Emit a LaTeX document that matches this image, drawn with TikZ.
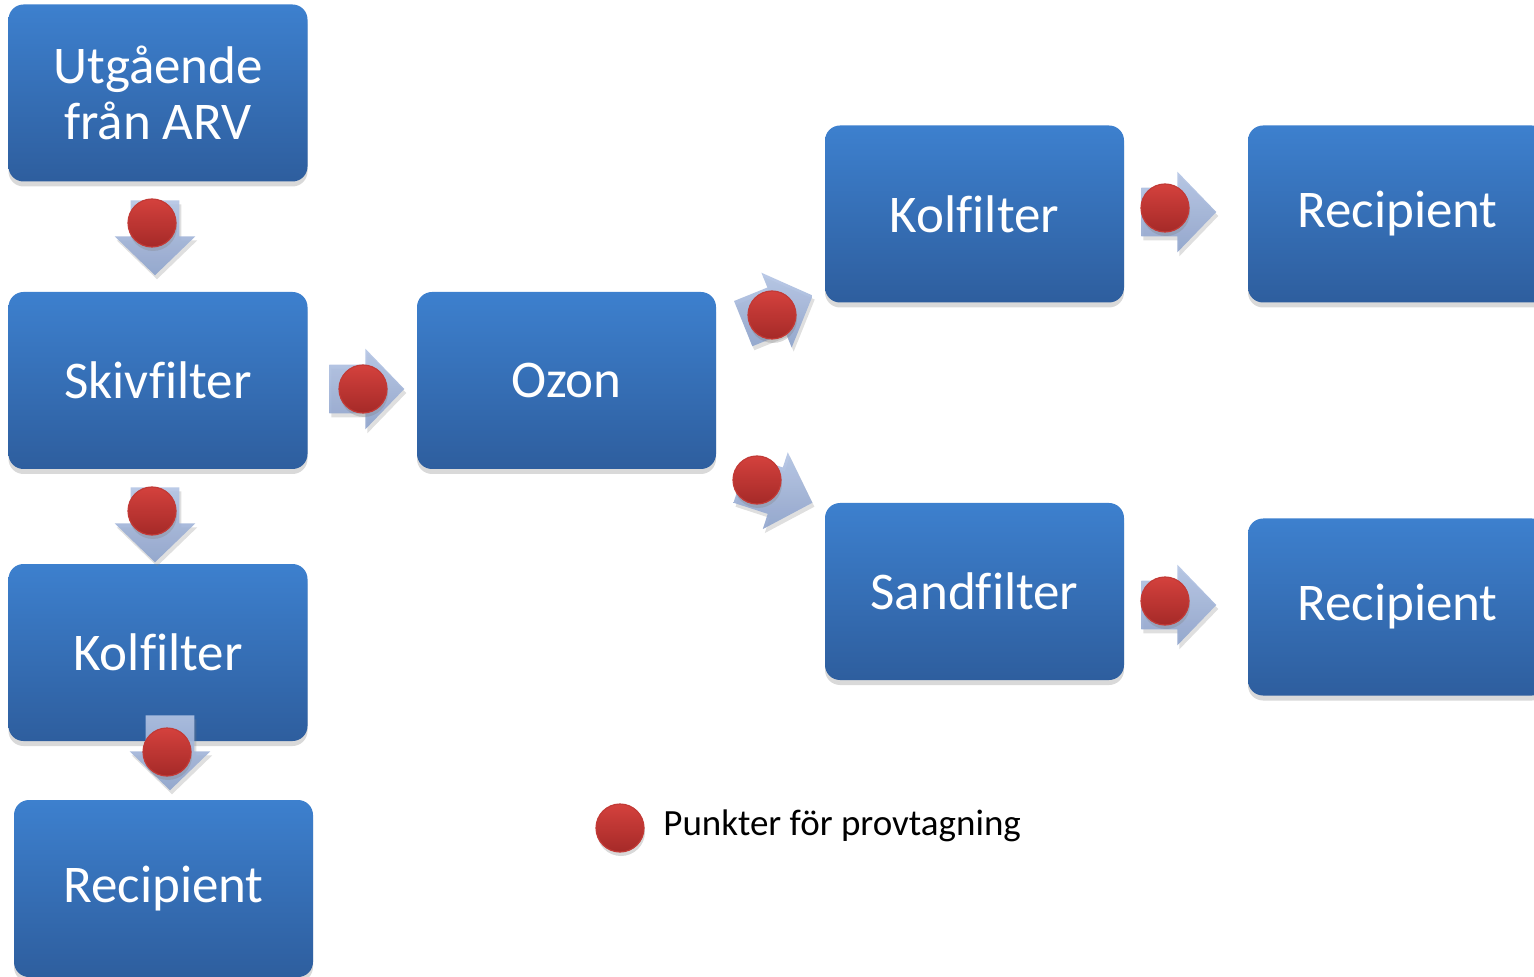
\documentclass[tikz,border=0pt]{standalone}
\usepackage{fontspec}
\setmainfont[Ligatures=NoCommon]{Carlito}
\usetikzlibrary{shapes.arrows,shadows}
\definecolor{boxtop}{HTML}{3D80CE}
\definecolor{boxbot}{HTML}{2E5E9E}
\definecolor{arrowtop}{HTML}{B3C4E4}
\definecolor{arrowbot}{HTML}{8DA2CB}
\definecolor{dottop}{HTML}{D4413D}
\definecolor{dotbot}{HTML}{A52A28}
\definecolor{dotrim}{HTML}{C23A36}
\tikzset{
  stagebox/.style={rectangle, rounded corners=7.5pt, minimum width=149.5pt,
    minimum height=88.5pt, top color=boxtop, bottom color=boxbot, draw=none,
    text=white, font=\fontsize{26.5}{28}\selectfont, align=center,
    drop shadow={shadow xshift=0pt, shadow yshift=-2.5pt, opacity=0.3}},
  flowarrow/.style={single arrow, draw=none, top color=arrowtop, bottom color=arrowbot,
    fill opacity=0.9, minimum height=37.5pt, inner xsep=0pt, inner ysep=12pt,
    single arrow head extend=8pt, single arrow tip angle=92,
    drop shadow={shadow xshift=1pt, shadow yshift=-2pt, opacity=0.25}},
  sampledot/.style={circle, minimum size=24pt, inner sep=0pt, top color=dottop,
    bottom color=dotbot, draw=dotrim, line width=0.6pt,
    drop shadow={shadow xshift=0.5pt, shadow yshift=-2pt, opacity=0.3}},
  legendtext/.style={anchor=west, inner sep=0pt, font=\fontsize{18.5}{20}\selectfont, text=black}
}
\begin{document}
\begin{tikzpicture}[x=0.5pt,y=-0.5pt]
\useasboundingbox (0,0) rectangle (1534,977);
\clip (0,0) rectangle (1534,977);
% stages
\node[stagebox] (utg)  at (158,93)    {Utgående\\från ARV};
\node[stagebox] (skiv) at (158,380.5) {Skivfilter};
\node[stagebox] (kolL) at (158,652.5) {Kolfilter};
\node[stagebox] (recL) at (163.5,888.5) {Recipient};
\node[stagebox] (ozon) at (566.5,380.5) {Ozon};
\node[stagebox] (kolT) at (974.5,214) {Kolfilter};
\node[stagebox] (recT) at (1397.5,214) {Recipient};
\node[stagebox] (sand) at (974.5,591.5) {Sandfilter};
\node[stagebox] (recM) at (1397.5,607) {Recipient};
% arrows
\node[flowarrow, rotate=-90] (a1) at (155,226) {};
\node[flowarrow, rotate=-90] (a2) at (155,513) {};
\node[flowarrow, rotate=-90] (a3) at (170,741) {};
\node[flowarrow] (a4) at (355,389) {};
\node[flowarrow, rotate=22] (a5) at (767,314) {};
\node[flowarrow, rotate=-18] (a6) at (765.5,487.5) {};
\node[flowarrow] (a7) at (1167,212) {};
\node[flowarrow] (a8) at (1167,605) {};
% sampling points
\node[sampledot] (d1) at (152,223) {};
\node[sampledot] (d2) at (152,511) {};
\node[sampledot] (d3) at (167,752) {};
\node[sampledot] (d4) at (363,389) {};
\node[sampledot] (d5) at (772,315) {};
\node[sampledot] (d6) at (757,480) {};
\node[sampledot] (d7) at (1165,208) {};
\node[sampledot] (d8) at (1165,601) {};
% legend
\node[sampledot] (ld) at (620,828) {};
\node[legendtext] (lt) at (663,826) {Punkter för provtagning};
\end{tikzpicture}
\end{document}
